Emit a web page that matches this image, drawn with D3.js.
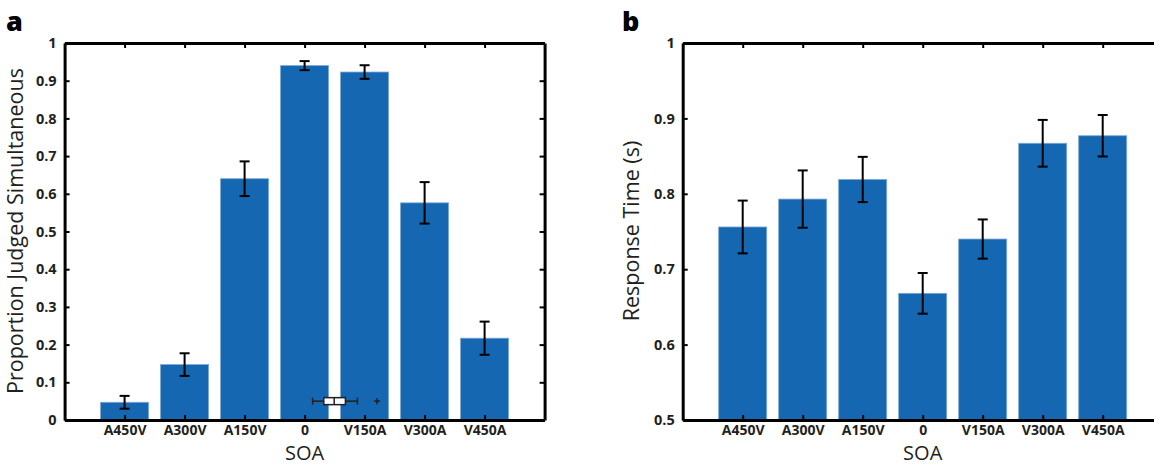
<!DOCTYPE html>
<html><head><meta charset="utf-8">
<script src="https://cdn.jsdelivr.net/npm/d3@7"></script>
<style>body{margin:0;background:#fff}svg{display:block}</style>
</head><body>
<svg id="c" width="1154" height="465"></svg>
<script>
const categories = ["A450V","A300V","A150V","0","V150A","V300A","V450A"];
const propValues = [0.047,0.147,0.640,0.940,0.923,0.576,0.217];
const propErrors = [0.017,0.030,0.046,0.012,0.018,0.055,0.044];
const rtValues = [0.756,0.793,0.819,0.668,0.740,0.867,0.877];
const rtErrors = [0.035,0.038,0.030,0.027,0.026,0.031,0.0275];
const propTicks = [0,0.1,0.2,0.3,0.4,0.5,0.6,0.7,0.8,0.9,1];
const rtTicks = [0.5,0.6,0.7,0.8,0.9,1];
// inset boxplot (SOA in ms): whisker low, q1, median, q3, whisker high, outlier
const boxStats = {lo:20, q1:48, med:74, q3:102, hi:132};
const boxOutliers = [181];
const boxLevel = 0.05;

const svg = d3.select("#c");
const blue = "#1667b1", edge = "#7aa7d6";
const tickFont = "'Open Sans', sans-serif";

function panel(opt){
  const g = svg.append("g");
  const x = d3.scaleLinear().domain([0,8]).range([opt.left, opt.left+480]);
  const y = d3.scaleLinear().domain(opt.ydom).range([420,43]);
  const bw = (x(1)-x(0))*0.8;
  // bars
  g.selectAll("rect.bar").data(opt.values).join("rect")
    .attr("x",(d,i)=>x(i+1)-bw/2).attr("width",bw)
    .attr("y",d=>y(d)).attr("height",d=>y(opt.ydom[0])-y(d))
    .attr("fill",blue).attr("stroke",edge).attr("stroke-width",0.8);
  // error bars
  const eb = g.selectAll("g.eb").data(opt.values).join("g");
  eb.append("line").attr("x1",(d,i)=>x(i+1)).attr("x2",(d,i)=>x(i+1))
    .attr("y1",(d,i)=>y(d-opt.errors[i])).attr("y2",(d,i)=>y(d+opt.errors[i]))
    .attr("stroke","#000").attr("stroke-width",2);
  [1,-1].forEach(s=>{
    eb.append("line").attr("x1",(d,i)=>x(i+1)-5).attr("x2",(d,i)=>x(i+1)+5)
      .attr("y1",(d,i)=>y(d+s*opt.errors[i])).attr("y2",(d,i)=>y(d+s*opt.errors[i]))
      .attr("stroke","#000").attr("stroke-width",2);
  });
  if(opt.box) opt.box(g,x,y);
  // axes
  const ax = (gen, tr, fs)=>{
    const a = g.append("g").attr("transform",tr).call(gen);
    a.select(".domain").attr("stroke","#000").attr("stroke-width",3);
    a.selectAll(".tick line").attr("stroke","#000").attr("stroke-width",2);
    a.selectAll("text").attr("font-family",tickFont).attr("font-weight",700)
      .attr("font-size",fs||14.5).attr("fill","#231f20");
    return a;
  };
  const xt = d3.range(1,8);
  ax(d3.axisBottom(x).tickValues(xt).tickSize(-5).tickSizeOuter(0).tickPadding(5)
       .tickFormat((d)=>categories[d-1]), `translate(0,${y(opt.ydom[0])})`, 14);
  ax(d3.axisTop(x).tickValues(xt).tickSize(-5).tickSizeOuter(0).tickFormat(""), `translate(0,${y(opt.ydom[1])})`);
  ax(d3.axisLeft(y).tickValues(opt.ticks).tickSize(-5).tickSizeOuter(0).tickPadding(8)
       .tickFormat(d=>d3.format("")(d)), `translate(${x(0)},0)`);
  ax(d3.axisRight(y).tickValues(opt.ticks).tickSize(-5).tickSizeOuter(0).tickFormat(""), `translate(${x(8)},0)`);
  // labels
  g.append("text").attr("x",x(4)).attr("y",459.5).attr("text-anchor","middle")
    .attr("font-family",tickFont).attr("font-size",20).attr("fill","#231f20").text("SOA");
  g.append("text").attr("transform",`translate(${opt.ylabX},${opt.ylabY}) rotate(-90)`)
    .attr("text-anchor","middle").attr("font-family",tickFont).attr("font-size",21.5).attr("fill","#231f20")
    .text(opt.ylabel);
  g.append("text").attr("x",opt.letterX).attr("y",31).attr("font-family",tickFont)
    .attr("font-weight",800).attr("font-size",27).attr("fill","#000").text(opt.letter);
}

panel({left:64.6, ydom:[0,1], values:propValues, errors:propErrors, ticks:propTicks,
  ylabel:"Proportion Judged Simultaneous", ylabX:23, ylabY:231, letter:"a", letterX:6,
  box:(g,x,y)=>{
    const bx = d3.scaleLinear().domain([0,150]).range([x(4),x(5)]);
    const cy = y(boxLevel), h = 7;
    const bg = g.append("g").attr("stroke","#231f20").attr("stroke-width",1.5).attr("fill","none");
    bg.append("line").attr("x1",bx(boxStats.lo)).attr("x2",bx(boxStats.q1)).attr("y1",cy).attr("y2",cy);
    bg.append("line").attr("x1",bx(boxStats.q3)).attr("x2",bx(boxStats.hi)).attr("y1",cy).attr("y2",cy);
    [boxStats.lo,boxStats.hi].forEach(v=>bg.append("line").attr("x1",bx(v)).attr("x2",bx(v)).attr("y1",cy-3.5).attr("y2",cy+3.5));
    bg.append("rect").attr("x",bx(boxStats.q1)).attr("width",bx(boxStats.q3)-bx(boxStats.q1))
      .attr("y",cy-h/2).attr("height",h).attr("fill","#fff");
    bg.append("line").attr("x1",bx(boxStats.med)).attr("x2",bx(boxStats.med)).attr("y1",cy-h/2).attr("y2",cy+h/2);
    boxOutliers.forEach(v=>{
      bg.append("line").attr("x1",bx(v)-3).attr("x2",bx(v)+3).attr("y1",cy).attr("y2",cy);
      bg.append("line").attr("x1",bx(v)).attr("x2",bx(v)).attr("y1",cy-3).attr("y2",cy+3);
    });
  }});
panel({left:682.7, ydom:[0.5,1], values:rtValues, errors:rtErrors, ticks:rtTicks,
  ylabel:"Response Time (s)", ylabX:639, ylabY:231, letter:"b", letterX:622});
</script>
</body></html>
